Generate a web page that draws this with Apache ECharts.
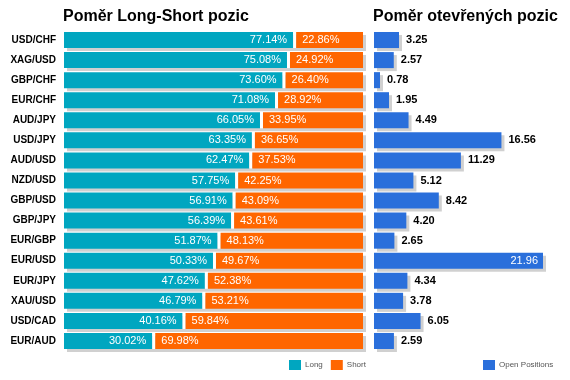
<!DOCTYPE html>
<html>
<head>
<meta charset="utf-8">
<script src="https://cdn.jsdelivr.net/npm/echarts@6/dist/echarts.min.js"></script>
<style>html,body{margin:0;padding:0;background:#fff}#c{width:570px;height:380px}</style>
</head>
<body>
<div id="c"></div>
<script>
const categories = ['USD/CHF','XAG/USD','GBP/CHF','EUR/CHF','AUD/JPY','USD/JPY','AUD/USD','NZD/USD','GBP/USD','GBP/JPY','EUR/GBP','EUR/USD','EUR/JPY','XAU/USD','USD/CAD','EUR/AUD'];
const longValues = [77.14,75.08,73.60,71.08,66.05,63.35,62.47,57.75,56.91,56.39,51.87,50.33,47.62,46.79,40.16,30.02];
const shortValues = [22.86,24.92,26.40,28.92,33.95,36.65,37.53,42.25,43.09,43.61,48.13,49.67,52.38,53.21,59.84,69.98];
const openValues = [3.25,2.57,0.78,1.95,4.49,16.56,11.29,5.12,8.42,4.20,2.65,21.96,4.34,3.78,6.05,2.59];

const TEAL = '#00a6c0', ORANGE = '#ff6600', BLUE = '#2a6fdb', SHADOW = '#d0d0d0';
const FONT = 'Liberation Sans, Arial, sans-serif';

const chart = echarts.init(document.getElementById('c'), null, {renderer: 'canvas'});

const lsData = categories.map((c, i) => [i, longValues[i], shortValues[i]]);
const opData = categories.map((c, i) => [i, openValues[i]]);
const maxOpen = Math.max.apply(null, openValues);

function renderLS(params, api) {
  const idx = api.value(0), lv = api.value(1), sv = api.value(2);
  const p0 = api.coord([0, idx]);
  const pl = api.coord([lv, idx]);
  const pe = api.coord([lv + sv, idx]);
  const h = api.size([0, 1])[1] * 0.8;
  const y = p0[1] - h / 2;
  return {type: 'group', children: [
    {type: 'rect', shape: {x: p0[0] + 3, y: y + 3, width: pe[0] - p0[0], height: h}, style: {fill: SHADOW}},
    {type: 'rect', shape: {x: p0[0], y: y, width: pl[0] - 1.5 - p0[0], height: h}, style: {fill: TEAL}},
    {type: 'rect', shape: {x: pl[0] - 1.5, y: y, width: 3, height: h}, style: {fill: '#fff'}},
    {type: 'rect', shape: {x: pl[0] + 1.5, y: y, width: pe[0] - pl[0] - 1.5, height: h}, style: {fill: ORANGE}},
    {type: 'text', style: {text: lv.toFixed(2) + '%', x: pl[0] - 7.5, y: p0[1], align: 'right', verticalAlign: 'middle', fill: '#fff', font: '11px ' + FONT}},
    {type: 'text', style: {text: sv.toFixed(2) + '%', x: pl[0] + 7.5, y: p0[1], align: 'left', verticalAlign: 'middle', fill: '#fff', font: '11px ' + FONT}}
  ]};
}

function renderOP(params, api) {
  const idx = api.value(0), v = api.value(1);
  const p0 = api.coord([0, idx]);
  const pv = api.coord([v, idx]);
  const h = api.size([0, 1])[1] * 0.8;
  const y = p0[1] - h / 2;
  const inside = v >= maxOpen;
  return {type: 'group', children: [
    {type: 'rect', shape: {x: p0[0] + 3, y: y + 3, width: pv[0] - p0[0], height: h}, style: {fill: SHADOW}},
    {type: 'rect', shape: {x: p0[0], y: y, width: pv[0] - p0[0], height: h}, style: {fill: BLUE}},
    inside
      ? {type: 'text', style: {text: v.toFixed(2), x: pv[0] - 5, y: p0[1], align: 'right', verticalAlign: 'middle', fill: '#fff', font: '11px ' + FONT}}
      : {type: 'text', style: {text: v.toFixed(2), x: pv[0] + 7, y: p0[1], align: 'left', verticalAlign: 'middle', fill: '#000', font: 'bold 11px ' + FONT}}
  ]};
}

const legendText = {fontFamily: FONT, fontSize: 8, color: '#555', padding: [0, 0, 0, -1]};

chart.setOption({
  animation: false,
  backgroundColor: '#fff',
  title: [
    {text: 'Poměr Long-Short pozic', left: 63, top: 9, padding: 0, textStyle: {fontFamily: FONT, fontSize: 16, fontWeight: 'bold', color: '#000'}},
    {text: 'Poměr otevřených pozic', left: 373, top: 9, padding: 0, textStyle: {fontFamily: FONT, fontSize: 16, fontWeight: 'bold', color: '#000'}}
  ],
  legend: [
    {data: ['Long', 'Short'], left: 289, top: 360, padding: 0, itemWidth: 12, itemHeight: 10, itemGap: 8, icon: 'rect', textStyle: legendText},
    {data: ['Open Positions'], left: 483, top: 360, padding: 0, itemWidth: 12, itemHeight: 10, icon: 'rect', textStyle: legendText}
  ],
  grid: [
    {left: 64, width: 299, top: 30, height: 321},
    {left: 374, width: 169, top: 30, height: 321}
  ],
  xAxis: [
    {gridIndex: 0, type: 'value', min: 0, max: 100, show: false},
    {gridIndex: 1, type: 'value', min: 0, max: maxOpen, show: false}
  ],
  yAxis: [
    {gridIndex: 0, type: 'category', data: categories, inverse: true,
     axisLine: {show: false}, axisTick: {show: false}, splitLine: {show: false},
     axisLabel: {margin: 8, fontFamily: FONT, fontSize: 10, fontWeight: 'bold', color: '#000'}},
    {gridIndex: 1, type: 'category', data: categories, inverse: true, show: false}
  ],
  series: [
    {type: 'custom', name: 'LongShort', xAxisIndex: 0, yAxisIndex: 0, renderItem: renderLS, data: lsData, encode: {x: [1, 2], y: 0}},
    {type: 'custom', name: 'Open', xAxisIndex: 1, yAxisIndex: 1, renderItem: renderOP, data: opData, encode: {x: 1, y: 0}},
    {type: 'bar', name: 'Long', xAxisIndex: 0, yAxisIndex: 0, data: [], itemStyle: {color: TEAL}},
    {type: 'bar', name: 'Short', xAxisIndex: 0, yAxisIndex: 0, data: [], itemStyle: {color: ORANGE}},
    {type: 'bar', name: 'Open Positions', xAxisIndex: 1, yAxisIndex: 1, data: [], itemStyle: {color: BLUE}}
  ]
});
</script>
</body>
</html>
